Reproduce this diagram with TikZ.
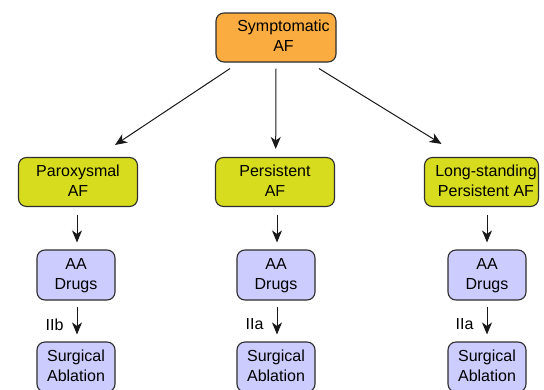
\documentclass[tikz,border=0pt]{standalone}
\usepackage{fontspec}
\setmainfont{Liberation Sans}
\usetikzlibrary{arrows.meta}
\definecolor{orangebox}{HTML}{FBAC40}
\definecolor{yellowbox}{HTML}{D7DD1E}
\definecolor{lavbox}{HTML}{CCCCFF}
\definecolor{edgegray}{HTML}{2E2E2E}
\newcommand{\btext}[1]{\raisebox{-2.5pt}{\begin{tabular}{@{}c@{}}#1\end{tabular}}}
\tikzset{
  box/.style={draw=edgegray, line width=1.1pt, rounded corners=8pt, inner sep=0pt,
    font=\fontsize{16}{20}\selectfont, text=black},
  topbox/.style={box, fill=orangebox, minimum width=120pt, minimum height=49pt},
  typebox/.style={box, fill=yellowbox, minimum width=119pt, minimum height=49pt},
  drugbox/.style={box, fill=lavbox, minimum width=78pt, minimum height=50pt},
  arr/.style={draw=black!90, line width=1pt, -{Stealth[length=12pt,width=10pt,inset=3.5pt]}},
  lbl/.style={font=\fontsize{16}{20}\selectfont, text=black, inner sep=0pt}
}
\begin{document}
\begin{tikzpicture}[x=1pt,y=-1pt]
\useasboundingbox (0,0) rectangle (544,389);
\node[topbox, label={[lbl, xshift=7.5pt]center:\btext{Symptomatic\\AF}}] (sym) at (276,37.5) {};
\node[typebox] (par) at (78,182) {\btext{Paroxysmal\\AF}};
\node[typebox] (per) at (275,182) {\btext{Persistent\\AF}};
\node[typebox, minimum width=114pt, label={[lbl, xshift=4.5pt]center:\btext{Long-standing\\Persistent AF}}] (lsp) at (481.5,182) {};
\node[drugbox] (aa1) at (76,275) {\btext{AA\\Drugs}};
\node[drugbox] (aa2) at (276,275) {\btext{AA\\Drugs}};
\node[drugbox] (aa3) at (487,275) {\btext{AA\\Drugs}};
\node[drugbox] (sa1) at (76,367) {\btext{Surgical\\Ablation}};
\node[drugbox] (sa2) at (276,367) {\btext{Surgical\\Ablation}};
\node[drugbox] (sa3) at (487,367) {\btext{Surgical\\Ablation}};
% top arrows
\draw[arr] ([xshift=-46pt,yshift=-6pt]sym.south) -- ([xshift=37pt,yshift=12pt]par.north);
\draw[arr] ([xshift=0pt,yshift=-6pt]sym.south) -- ([xshift=0.7pt,yshift=8pt]per.north);
\draw[arr] ([xshift=43pt,yshift=-6pt]sym.south) -- ([xshift=-40pt,yshift=13pt]lsp.north);
% down arrows
\draw[arr] ([xshift=-1pt,yshift=-8pt]par.south) -- ([xshift=1pt,yshift=7pt]aa1.north);
\draw[arr] ([xshift=2pt,yshift=-8pt]per.south) -- ([xshift=1pt,yshift=7pt]aa2.north);
\draw[arr] ([xshift=5.5pt,yshift=-8pt]lsp.south) -- ([xshift=0pt,yshift=7pt]aa3.north);
\draw[arr] ([xshift=1pt,yshift=-6pt]aa1.south) -- node[lbl, left=13pt, yshift=-4pt]{IIb} ([xshift=1pt,yshift=7pt]sa1.north);
\draw[arr] ([xshift=1pt,yshift=-6pt]aa2.south) -- node[lbl, left=13pt, yshift=-4pt]{IIa} ([xshift=1pt,yshift=7pt]sa2.north);
\draw[arr] ([xshift=0pt,yshift=-6pt]aa3.south) -- node[lbl, left=13pt, yshift=-4pt]{IIa} ([xshift=0pt,yshift=7pt]sa3.north);
\end{tikzpicture}
\end{document}
